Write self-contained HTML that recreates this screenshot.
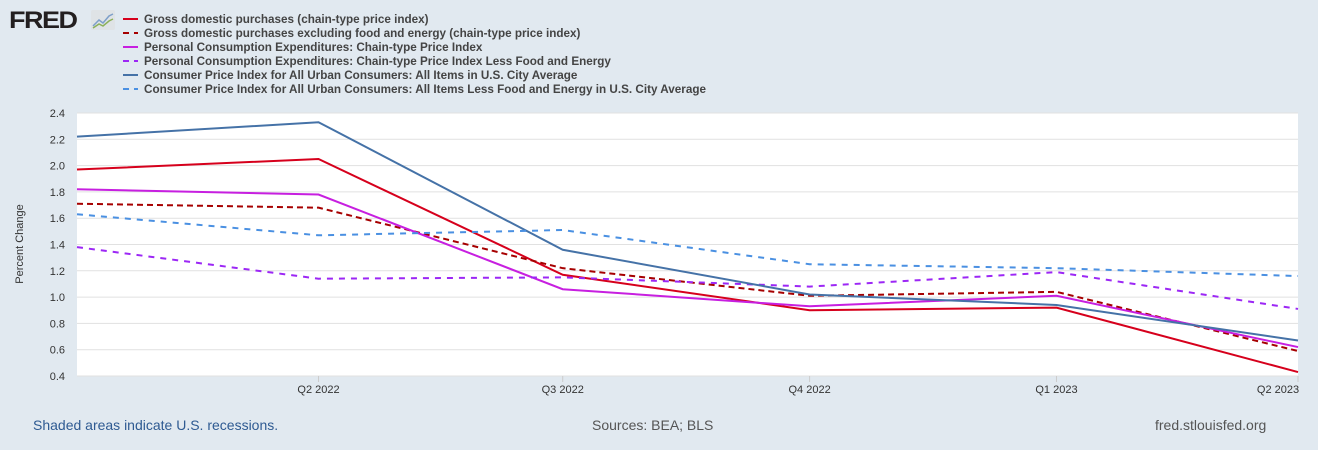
<!DOCTYPE html>
<html><head><meta charset="utf-8"><style>
body{margin:0;width:1318px;height:450px;background:#e1e9f0;font-family:"Liberation Sans",sans-serif;overflow:hidden;position:relative}
.t{position:absolute;white-space:nowrap}
</style></head><body>
<div class="t" style="left:9px;top:5px;font-size:27px;font-weight:900;color:#231f20;letter-spacing:-1.5px;transform:scaleY(0.9)">FRED</div>
<svg class="t" style="left:91px;top:10px" width="24" height="20"><rect width="24" height="20" rx="2" fill="#dfe3e6"/><polyline points="2,16 8,10 12,13 18,6 22,4" fill="none" stroke="#7e9fc9" stroke-width="1.5"/><polyline points="2,18 8,14 12,16 18,11 22,9" fill="none" stroke="#8cb05a" stroke-width="1.5"/></svg>
<svg id="chart" width="1318" height="450" style="position:absolute;left:0;top:0"></svg>
<div class="t" style="left:33px;top:417px;font-size:14px;color:#2e5a92">Shaded areas indicate U.S. recessions.</div>
<div class="t" style="left:592px;top:417px;font-size:14px;color:#555">Sources: BEA; BLS</div>
<div class="t" style="left:1155px;top:417px;font-size:14px;color:#555">fred.stlouisfed.org</div>
<script>
const categories=["Q1 2022","Q2 2022","Q3 2022","Q4 2022","Q1 2023","Q2 2023"];
const dates=["2022-01-01","2022-04-01","2022-07-01","2022-10-01","2023-01-01","2023-04-01"];
const xLabels=["","Q2 2022","Q3 2022","Q4 2022","Q1 2023","Q2 2023"];
const yTicks=[0.4,0.6,0.8,1.0,1.2,1.4,1.6,1.8,2.0,2.2,2.4];
const gdp=[1.97,2.05,1.17,0.90,0.92,0.43];
const gdpCore=[1.71,1.68,1.22,1.01,1.04,0.59];
const pce=[1.82,1.78,1.06,0.93,1.01,0.62];
const pceCore=[1.38,1.14,1.15,1.08,1.19,0.91];
const cpi=[2.22,2.33,1.36,1.02,0.94,0.67];
const cpiCore=[1.63,1.47,1.51,1.25,1.22,1.16];
const seriesNames=["Gross domestic purchases (chain-type price index)","Gross domestic purchases excluding food and energy (chain-type price index)","Personal Consumption Expenditures: Chain-type Price Index","Personal Consumption Expenditures: Chain-type Price Index Less Food and Energy","Consumer Price Index for All Urban Consumers: All Items in U.S. City Average","Consumer Price Index for All Urban Consumers: All Items Less Food and Energy in U.S. City Average"];
const series=[gdp,gdpCore,pce,pceCore,cpi,cpiCore];
const colors=["#d6001c","#a60000","#c71fe0","#9c27f5","#4572a7","#4a90e2"];
const dashes=["","6,4","","6,6","","6,6"];
const L=77,R=1298,T=113,B=376,ymin=0.4,ymax=2.4;
const t0=Date.parse(dates[0]),t1=Date.parse(dates[dates.length-1]);
const x=i=>L+(R-L)*(Date.parse(dates[i])-t0)/(t1-t0);
const y=v=>B-(v-ymin)/(ymax-ymin)*(B-T);
const svg=document.getElementById('chart');const NS='http://www.w3.org/2000/svg';
function mk(t,a){const e=document.createElementNS(NS,t);for(const k in a)e.setAttribute(k,a[k]);svg.appendChild(e);return e;}
const bg=mk('rect',{x:L,y:T,width:R-L,height:B-T,fill:'#fff'});


yTicks.forEach(v=>{const g=mk('line',{x1:L,x2:R,y1:y(v),y2:y(v),stroke:'#e1e1e1'});


const t=mk('text',{x:L-12,y:y(v)+4,'text-anchor':'end','font-size':11,fill:'#333'});t.textContent=v.toFixed(1);

});
xLabels.forEach((c,i)=>{if(!c)return;const t=mk('text',{x:i==5?x(i)-20:x(i),y:B+17,'text-anchor':'middle','font-size':11,fill:'#333'});t.textContent=c;


const tk=mk('line',{x1:x(i),x2:x(i),y1:B,y2:B+6,stroke:'#ccc'});

});
const yt=mk('text',{x:23,y:244,'text-anchor':'middle','font-size':11,fill:'#333',transform:'rotate(-90 23 244)'});yt.textContent='Percent Change';


series.forEach((s,k)=>{const p=mk('polyline',{points:s.map((v,i)=>x(i)+','+y(v)).join(' '),fill:'none',stroke:colors[k],'stroke-width':2,'stroke-dasharray':dashes[k]});


const ly=19+k*14;
const ll=mk('line',{x1:123,x2:138,y1:ly,y2:ly,stroke:colors[k],'stroke-width':2,'stroke-dasharray':dashes[k]?'6,5':''});


const lt=mk('text',{x:144,y:ly+4,'font-size':11.7,'font-weight':'bold',fill:'#444'});lt.textContent=seriesNames[k];

});
</script>
</body></html>
